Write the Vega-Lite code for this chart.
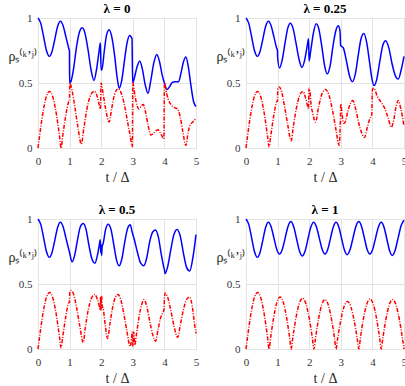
{
"$schema":"https://vega.github.io/schema/vega-lite/v6.json",
"background":"white",
"padding":{"left":7,"top":2,"right":0,"bottom":0},
"columns":2,
"spacing":{"row":71,"column":50},
"bounds":"flush",
"datasets":{
"b0":[{"t":0,"v":1.0},{"t":0.09,"v":0.957},{"t":0.18,"v":0.853},{"t":0.27,"v":0.748},{"t":0.36,"v":0.705},{"t":0.447,"v":0.745},{"t":0.535,"v":0.84},{"t":0.62,"v":0.935},{"t":0.71,"v":0.975},{"t":0.797,"v":0.939},{"t":0.885,"v":0.853},{"t":0.972,"v":0.767},{"t":0.995,"v":0.745},{"t":1.0,"v":0.5},{"t":1.04,"v":0.51},{"t":1.12,"v":0.6},{"t":1.22,"v":0.78},{"t":1.31,"v":0.89},{"t":1.4,"v":0.925},{"t":1.49,"v":0.88},{"t":1.58,"v":0.76},{"t":1.68,"v":0.6},{"t":1.77,"v":0.52},{"t":1.85,"v":0.6},{"t":1.93,"v":0.74},{"t":1.975,"v":0.81},{"t":1.995,"v":0.6},{"t":2.02,"v":0.6},{"t":2.1,"v":0.75},{"t":2.17,"v":0.87},{"t":2.25,"v":0.91},{"t":2.33,"v":0.86},{"t":2.42,"v":0.72},{"t":2.5,"v":0.55},{"t":2.57,"v":0.46},{"t":2.65,"v":0.52},{"t":2.74,"v":0.68},{"t":2.82,"v":0.81},{"t":2.9,"v":0.865},{"t":2.975,"v":0.84},{"t":2.995,"v":0.5},{"t":3.05,"v":0.54},{"t":3.13,"v":0.62},{"t":3.22,"v":0.67},{"t":3.3,"v":0.61},{"t":3.39,"v":0.49},{"t":3.48,"v":0.42},{"t":3.57,"v":0.52},{"t":3.67,"v":0.66},{"t":3.76,"v":0.72},{"t":3.85,"v":0.66},{"t":3.93,"v":0.56},{"t":4.0,"v":0.5},{"t":4.08,"v":0.45},{"t":4.16,"v":0.47},{"t":4.25,"v":0.505},{"t":4.32,"v":0.51},{"t":4.45,"v":0.51},{"t":4.52,"v":0.57},{"t":4.6,"v":0.66},{"t":4.68,"v":0.7},{"t":4.76,"v":0.62},{"t":4.84,"v":0.48},{"t":4.92,"v":0.36},{"t":5.0,"v":0.32}],
"r0":[{"t":0,"v":0},{"t":0.051,"v":0.095},{"t":0.146,"v":0.256},{"t":0.2555,"v":0.388},{"t":0.365,"v":0.435},{"t":0.4745,"v":0.388},{"t":0.584,"v":0.256},{"t":0.679,"v":0.095},{"t":0.73,"v":0},{"t":0.779,"v":0.087},{"t":0.87,"v":0.235},{"t":0.975,"v":0.356},{"t":0.995,"v":0.36},{"t":1.005,"v":0.5},{"t":1.08,"v":0.44},{"t":1.17,"v":0.31},{"t":1.27,"v":0.15},{"t":1.37,"v":0.03},{"t":1.45,"v":0.15},{"t":1.54,"v":0.29},{"t":1.64,"v":0.39},{"t":1.73,"v":0.43},{"t":1.79,"v":0.435},{"t":1.87,"v":0.4},{"t":1.93,"v":0.34},{"t":1.975,"v":0.3},{"t":1.995,"v":0.5},{"t":2.06,"v":0.42},{"t":2.14,"v":0.3},{"t":2.25,"v":0.2},{"t":2.33,"v":0.3},{"t":2.42,"v":0.41},{"t":2.53,"v":0.455},{"t":2.62,"v":0.43},{"t":2.72,"v":0.35},{"t":2.82,"v":0.22},{"t":2.92,"v":0.09},{"t":2.985,"v":0.01},{"t":3.0,"v":0.5},{"t":3.07,"v":0.4},{"t":3.13,"v":0.33},{"t":3.19,"v":0.3},{"t":3.27,"v":0.325},{"t":3.33,"v":0.335},{"t":3.4,"v":0.28},{"t":3.48,"v":0.18},{"t":3.57,"v":0.1},{"t":3.64,"v":0.11},{"t":3.72,"v":0.13},{"t":3.79,"v":0.14},{"t":3.86,"v":0.12},{"t":3.93,"v":0.09},{"t":3.985,"v":0.07},{"t":4.0,"v":0.5},{"t":4.07,"v":0.42},{"t":4.13,"v":0.37},{"t":4.22,"v":0.33},{"t":4.32,"v":0.31},{"t":4.42,"v":0.3},{"t":4.5,"v":0.24},{"t":4.58,"v":0.13},{"t":4.68,"v":0.02},{"t":4.75,"v":0.12},{"t":4.82,"v":0.18},{"t":4.9,"v":0.2},{"t":5.0,"v":0.23}],
"b1":[{"t":0,"v":1.0},{"t":0.09,"v":0.957},{"t":0.18,"v":0.853},{"t":0.27,"v":0.748},{"t":0.36,"v":0.705},{"t":0.447,"v":0.745},{"t":0.535,"v":0.84},{"t":0.62,"v":0.935},{"t":0.71,"v":0.975},{"t":0.797,"v":0.939},{"t":0.885,"v":0.853},{"t":0.972,"v":0.767},{"t":0.995,"v":0.75},{"t":1.0,"v":0.7},{"t":1.06,"v":0.615},{"t":1.14,"v":0.67},{"t":1.23,"v":0.8},{"t":1.32,"v":0.92},{"t":1.4,"v":0.96},{"t":1.49,"v":0.92},{"t":1.58,"v":0.81},{"t":1.68,"v":0.68},{"t":1.77,"v":0.62},{"t":1.86,"v":0.68},{"t":1.94,"v":0.79},{"t":1.98,"v":0.84},{"t":1.995,"v":0.67},{"t":2.05,"v":0.75},{"t":2.13,"v":0.88},{"t":2.22,"v":0.955},{"t":2.31,"v":0.91},{"t":2.4,"v":0.78},{"t":2.49,"v":0.63},{"t":2.57,"v":0.57},{"t":2.66,"v":0.63},{"t":2.75,"v":0.78},{"t":2.84,"v":0.9},{"t":2.92,"v":0.94},{"t":2.975,"v":0.9},{"t":2.995,"v":0.79},{"t":3.08,"v":0.77},{"t":3.17,"v":0.68},{"t":3.27,"v":0.56},{"t":3.37,"v":0.51},{"t":3.46,"v":0.57},{"t":3.55,"v":0.71},{"t":3.64,"v":0.84},{"t":3.73,"v":0.88},{"t":3.82,"v":0.81},{"t":3.91,"v":0.66},{"t":3.98,"v":0.54},{"t":4.05,"v":0.48},{"t":4.14,"v":0.53},{"t":4.23,"v":0.66},{"t":4.33,"v":0.79},{"t":4.42,"v":0.825},{"t":4.52,"v":0.77},{"t":4.62,"v":0.65},{"t":4.72,"v":0.56},{"t":4.82,"v":0.53},{"t":4.91,"v":0.6},{"t":5.0,"v":0.705}],
"r1":[{"t":0,"v":0},{"t":0.051,"v":0.095},{"t":0.146,"v":0.256},{"t":0.2555,"v":0.388},{"t":0.365,"v":0.435},{"t":0.4745,"v":0.388},{"t":0.584,"v":0.256},{"t":0.679,"v":0.095},{"t":0.73,"v":0.01},{"t":0.779,"v":0.087},{"t":0.87,"v":0.235},{"t":0.975,"v":0.356},{"t":0.995,"v":0.36},{"t":1.005,"v":0.45},{"t":1.05,"v":0.47},{"t":1.13,"v":0.43},{"t":1.22,"v":0.32},{"t":1.32,"v":0.18},{"t":1.43,"v":0.055},{"t":1.5,"v":0.17},{"t":1.59,"v":0.3},{"t":1.69,"v":0.4},{"t":1.8,"v":0.435},{"t":1.88,"v":0.39},{"t":1.94,"v":0.33},{"t":1.975,"v":0.3},{"t":1.995,"v":0.46},{"t":2.03,"v":0.42},{"t":2.06,"v":0.33},{"t":2.1,"v":0.28},{"t":2.2,"v":0.2},{"t":2.3,"v":0.32},{"t":2.41,"v":0.42},{"t":2.52,"v":0.45},{"t":2.62,"v":0.41},{"t":2.73,"v":0.3},{"t":2.84,"v":0.15},{"t":2.95,"v":0.02},{"t":2.985,"v":0.2},{"t":3.0,"v":0.34},{"t":3.04,"v":0.26},{"t":3.09,"v":0.19},{"t":3.14,"v":0.2},{"t":3.22,"v":0.28},{"t":3.3,"v":0.34},{"t":3.38,"v":0.365},{"t":3.47,"v":0.3},{"t":3.57,"v":0.19},{"t":3.67,"v":0.11},{"t":3.75,"v":0.08},{"t":3.83,"v":0.15},{"t":3.91,"v":0.22},{"t":3.98,"v":0.26},{"t":4.0,"v":0.45},{"t":4.05,"v":0.46},{"t":4.15,"v":0.4},{"t":4.28,"v":0.35},{"t":4.4,"v":0.3},{"t":4.5,"v":0.23},{"t":4.6,"v":0.16},{"t":4.68,"v":0.22},{"t":4.75,"v":0.32},{"t":4.82,"v":0.365},{"t":4.9,"v":0.3},{"t":5.0,"v":0.17}],
"b2":[{"t":0,"v":1.0},{"t":0.09,"v":0.957},{"t":0.18,"v":0.853},{"t":0.27,"v":0.748},{"t":0.36,"v":0.705},{"t":0.447,"v":0.745},{"t":0.535,"v":0.84},{"t":0.62,"v":0.935},{"t":0.71,"v":0.975},{"t":0.797,"v":0.939},{"t":0.885,"v":0.853},{"t":0.972,"v":0.767},{"t":0.995,"v":0.745},{"t":1.0,"v":0.74},{"t":1.08,"v":0.67},{"t":1.16,"v":0.72},{"t":1.25,"v":0.84},{"t":1.34,"v":0.94},{"t":1.43,"v":0.965},{"t":1.52,"v":0.92},{"t":1.61,"v":0.8},{"t":1.71,"v":0.69},{"t":1.8,"v":0.66},{"t":1.88,"v":0.72},{"t":1.94,"v":0.8},{"t":1.97,"v":0.84},{"t":1.985,"v":0.74},{"t":2.0,"v":0.8},{"t":2.015,"v":0.72},{"t":2.03,"v":0.79},{"t":2.06,"v":0.81},{"t":2.14,"v":0.92},{"t":2.22,"v":0.96},{"t":2.31,"v":0.92},{"t":2.4,"v":0.8},{"t":2.49,"v":0.68},{"t":2.57,"v":0.64},{"t":2.66,"v":0.7},{"t":2.75,"v":0.83},{"t":2.84,"v":0.93},{"t":2.92,"v":0.955},{"t":2.98,"v":0.9},{"t":3.05,"v":0.84},{"t":3.15,"v":0.74},{"t":3.25,"v":0.66},{"t":3.35,"v":0.64},{"t":3.44,"v":0.7},{"t":3.53,"v":0.82},{"t":3.63,"v":0.9},{"t":3.72,"v":0.915},{"t":3.81,"v":0.86},{"t":3.9,"v":0.73},{"t":3.98,"v":0.63},{"t":4.0,"v":0.61},{"t":4.02,"v":0.58},{"t":4.1,"v":0.63},{"t":4.2,"v":0.76},{"t":4.3,"v":0.88},{"t":4.4,"v":0.92},{"t":4.5,"v":0.87},{"t":4.6,"v":0.74},{"t":4.7,"v":0.63},{"t":4.8,"v":0.6},{"t":4.9,"v":0.7},{"t":5.0,"v":0.88}],
"r2":[{"t":0,"v":0},{"t":0.051,"v":0.095},{"t":0.146,"v":0.256},{"t":0.2555,"v":0.388},{"t":0.365,"v":0.435},{"t":0.4745,"v":0.388},{"t":0.584,"v":0.256},{"t":0.679,"v":0.095},{"t":0.73,"v":0.01},{"t":0.779,"v":0.087},{"t":0.87,"v":0.235},{"t":0.975,"v":0.356},{"t":0.995,"v":0.36},{"t":1.005,"v":0.43},{"t":1.05,"v":0.45},{"t":1.13,"v":0.42},{"t":1.22,"v":0.32},{"t":1.32,"v":0.18},{"t":1.43,"v":0.05},{"t":1.5,"v":0.17},{"t":1.59,"v":0.3},{"t":1.69,"v":0.39},{"t":1.8,"v":0.42},{"t":1.88,"v":0.38},{"t":1.94,"v":0.33},{"t":1.97,"v":0.3},{"t":1.98,"v":0.4},{"t":1.995,"v":0.3},{"t":2.01,"v":0.41},{"t":2.03,"v":0.34},{"t":2.07,"v":0.3},{"t":2.13,"v":0.18},{"t":2.2,"v":0.08},{"t":2.28,"v":0.2},{"t":2.37,"v":0.33},{"t":2.45,"v":0.4},{"t":2.53,"v":0.42},{"t":2.62,"v":0.38},{"t":2.71,"v":0.28},{"t":2.81,"v":0.14},{"t":2.92,"v":0.02},{"t":2.96,"v":0.08},{"t":2.98,"v":0.13},{"t":3.0,"v":0.02},{"t":3.03,"v":0.13},{"t":3.06,"v":0.03},{"t":3.12,"v":0.12},{"t":3.2,"v":0.25},{"t":3.28,"v":0.34},{"t":3.35,"v":0.38},{"t":3.44,"v":0.33},{"t":3.53,"v":0.22},{"t":3.63,"v":0.11},{"t":3.72,"v":0.06},{"t":3.8,"v":0.15},{"t":3.88,"v":0.24},{"t":3.95,"v":0.28},{"t":3.985,"v":0.3},{"t":4.0,"v":0.38},{"t":4.02,"v":0.43},{"t":4.1,"v":0.4},{"t":4.2,"v":0.3},{"t":4.3,"v":0.18},{"t":4.42,"v":0.09},{"t":4.5,"v":0.18},{"t":4.6,"v":0.3},{"t":4.7,"v":0.38},{"t":4.8,"v":0.4},{"t":4.88,"v":0.33},{"t":4.95,"v":0.2},{"t":5.0,"v":0.12}],
"b3":[{"t":0,"v":1.0},{"t":0.09,"v":0.957},{"t":0.18,"v":0.853},{"t":0.27,"v":0.748},{"t":0.36,"v":0.705},{"t":0.447,"v":0.745},{"t":0.535,"v":0.84},{"t":0.62,"v":0.935},{"t":0.71,"v":0.975},{"t":0.797,"v":0.939},{"t":0.885,"v":0.853},{"t":0.972,"v":0.767},{"t":1.06,"v":0.73},{"t":1.15,"v":0.767},{"t":1.24,"v":0.855},{"t":1.33,"v":0.943},{"t":1.42,"v":0.98},{"t":1.51,"v":0.94},{"t":1.6,"v":0.848},{"t":1.69,"v":0.755},{"t":1.78,"v":0.715},{"t":1.87,"v":0.754},{"t":1.96,"v":0.845},{"t":2.05,"v":0.936},{"t":2.14,"v":0.975},{"t":2.23,"v":0.938},{"t":2.32,"v":0.853},{"t":2.41,"v":0.767},{"t":2.5,"v":0.73},{"t":2.588,"v":0.767},{"t":2.675,"v":0.853},{"t":2.762,"v":0.938},{"t":2.85,"v":0.975},{"t":2.938,"v":0.938},{"t":3.025,"v":0.85},{"t":3.112,"v":0.763},{"t":3.2,"v":0.725},{"t":3.292,"v":0.763},{"t":3.385,"v":0.853},{"t":3.477,"v":0.942},{"t":3.57,"v":0.98},{"t":3.657,"v":0.943},{"t":3.745,"v":0.855},{"t":3.832,"v":0.767},{"t":3.92,"v":0.73},{"t":4.01,"v":0.767},{"t":4.1,"v":0.853},{"t":4.19,"v":0.938},{"t":4.28,"v":0.975},{"t":4.368,"v":0.937},{"t":4.455,"v":0.848},{"t":4.542,"v":0.758},{"t":4.63,"v":0.72},{"t":4.72,"v":0.76},{"t":4.815,"v":0.855},{"t":4.91,"v":0.95},{"t":5.0,"v":0.99}],
"r3":[{"t":0,"v":0},{"t":0.051,"v":0.095},{"t":0.146,"v":0.256},{"t":0.2555,"v":0.388},{"t":0.365,"v":0.435},{"t":0.4745,"v":0.388},{"t":0.584,"v":0.256},{"t":0.679,"v":0.095},{"t":0.73,"v":0},{"t":0.779,"v":0.087},{"t":0.87,"v":0.235},{"t":0.975,"v":0.356},{"t":1.08,"v":0.4},{"t":1.185,"v":0.356},{"t":1.29,"v":0.235},{"t":1.381,"v":0.087},{"t":1.43,"v":0},{"t":1.48,"v":0.085},{"t":1.574,"v":0.229},{"t":1.682,"v":0.347},{"t":1.79,"v":0.39},{"t":1.898,"v":0.347},{"t":2.006,"v":0.229},{"t":2.1,"v":0.085},{"t":2.15,"v":0},{"t":2.199,"v":0.083},{"t":2.29,"v":0.223},{"t":2.395,"v":0.339},{"t":2.5,"v":0.38},{"t":2.605,"v":0.339},{"t":2.71,"v":0.223},{"t":2.801,"v":0.083},{"t":2.85,"v":0},{"t":2.9,"v":0.08},{"t":2.994,"v":0.215},{"t":3.102,"v":0.325},{"t":3.21,"v":0.365},{"t":3.318,"v":0.325},{"t":3.426,"v":0.215},{"t":3.52,"v":0.08},{"t":3.57,"v":0},{"t":3.62,"v":0.084},{"t":3.712,"v":0.226},{"t":3.818,"v":0.343},{"t":3.925,"v":0.385},{"t":4.032,"v":0.343},{"t":4.138,"v":0.226},{"t":4.23,"v":0.084},{"t":4.28,"v":0},{"t":4.33,"v":0.083},{"t":4.424,"v":0.223},{"t":4.532,"v":0.339},{"t":4.64,"v":0.38},{"t":4.748,"v":0.339},{"t":4.856,"v":0.223},{"t":4.95,"v":0.083},{"t":5.0,"v":0}]
},
"concat":[
{"width":158,"height":130,"title":"λ = 0",
 "encoding":{"x":{"field":"t","type":"quantitative","scale":{"domain":[0,5],"nice":false},"axis":{"values":[0,1,2,3,4,5],"title":"t / Δ"}},
  "y":{"field":"v","type":"quantitative","scale":{"domain":[0,1],"nice":false},"axis":{"values":[0,0.5,1],"format":"~g","title":"ρₛ⁽ᵏ’ʲ⁾"}}},
 "layer":[{"data":{"name":"b0"},"mark":{"type":"line","color":"#0000ff","strokeWidth":1.5,"interpolate":"monotone"}},
  {"data":{"name":"r0"},"mark":{"type":"line","color":"#ff0000","strokeWidth":1.5,"strokeDash":[4,1.5,1,1.5],"interpolate":"monotone"}}]},
{"width":158,"height":130,"title":"λ = 0.25",
 "encoding":{"x":{"field":"t","type":"quantitative","scale":{"domain":[0,5],"nice":false},"axis":{"values":[0,1,2,3,4,5],"title":"t / Δ"}},
  "y":{"field":"v","type":"quantitative","scale":{"domain":[0,1],"nice":false},"axis":{"values":[0,0.5,1],"format":"~g","title":"ρₛ⁽ᵏ’ʲ⁾"}}},
 "layer":[{"data":{"name":"b1"},"mark":{"type":"line","color":"#0000ff","strokeWidth":1.5,"interpolate":"monotone"}},
  {"data":{"name":"r1"},"mark":{"type":"line","color":"#ff0000","strokeWidth":1.5,"strokeDash":[4,1.5,1,1.5],"interpolate":"monotone"}}]},
{"width":158,"height":130,"title":"λ = 0.5",
 "encoding":{"x":{"field":"t","type":"quantitative","scale":{"domain":[0,5],"nice":false},"axis":{"values":[0,1,2,3,4,5],"title":"t / Δ"}},
  "y":{"field":"v","type":"quantitative","scale":{"domain":[0,1],"nice":false},"axis":{"values":[0,0.5,1],"format":"~g","title":"ρₛ⁽ᵏ’ʲ⁾"}}},
 "layer":[{"data":{"name":"b2"},"mark":{"type":"line","color":"#0000ff","strokeWidth":1.5,"interpolate":"monotone"}},
  {"data":{"name":"r2"},"mark":{"type":"line","color":"#ff0000","strokeWidth":1.5,"strokeDash":[4,1.5,1,1.5],"interpolate":"monotone"}}]},
{"width":158,"height":130,"title":"λ = 1",
 "encoding":{"x":{"field":"t","type":"quantitative","scale":{"domain":[0,5],"nice":false},"axis":{"values":[0,1,2,3,4,5],"title":"t / Δ"}},
  "y":{"field":"v","type":"quantitative","scale":{"domain":[0,1],"nice":false},"axis":{"values":[0,0.5,1],"format":"~g","title":"ρₛ⁽ᵏ’ʲ⁾"}}},
 "layer":[{"data":{"name":"b3"},"mark":{"type":"line","color":"#0000ff","strokeWidth":1.5,"interpolate":"monotone"}},
  {"data":{"name":"r3"},"mark":{"type":"line","color":"#ff0000","strokeWidth":1.5,"strokeDash":[4,1.5,1,1.5],"interpolate":"monotone"}}]}
],
"config":{
 "font":"Liberation Serif, Times New Roman, serif",
 "view":{"stroke":"#7a7a7a","strokeWidth":1},
 "axis":{"domain":false,"ticks":false,"grid":true,"gridColor":"#e4e4e4","gridWidth":1,"labelFont":"Liberation Serif, Times New Roman, serif","labelFontSize":11,"labelColor":"#333333","titleFont":"Liberation Serif, Times New Roman, serif","titleFontWeight":"normal","titleColor":"#262626","titleFontSize":14},
 "axisX":{"labelPadding":7,"titlePadding":4,"labelFlush":false},
 "axisY":{"labelPadding":6,"titleAngle":0,"titleAlign":"left","titleBaseline":"middle","titleX":-30,"titleY":38,"titleFontSize":14},
 "title":{"font":"Liberation Serif, Times New Roman, serif","fontSize":13,"fontWeight":"bold","color":"#000000","offset":-4}
}
}
